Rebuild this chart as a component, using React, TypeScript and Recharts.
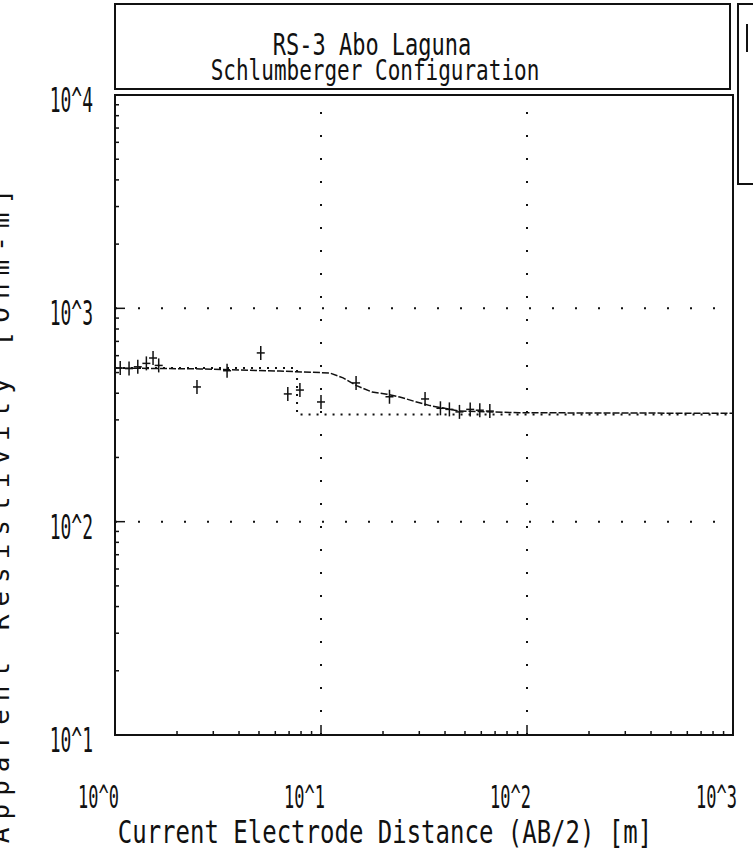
import { ComposedChart, Line, Scatter, XAxis, YAxis, ReferenceLine, ReferenceArea, Customized } from "recharts"

// measured apparent resistivity (AB/2 in m, rho in ohm-m)
const measuredAb2 = [1.06, 1.17, 1.29, 1.42, 1.53, 1.63, 2.5, 3.5, 5.1, 6.9, 7.9, 10, 14.8, 21.5, 32, 38, 42, 47, 53, 59, 66]
const measuredRho = [525, 522, 532, 552, 585, 540, 428, 510, 618, 397, 414, 364, 447, 385, 376, 340, 336, 327, 336, 333, 330]

// computed curve
const curveAb2 = [1, 2.6, 6.3, 11, 12.8, 14.9, 17.7, 20.9, 24.1, 28.5, 33.8, 47, 92, 1000]
const curveRho = [525, 520, 508, 498, 472, 434, 405, 396, 384, 366, 350, 330, 324, 322]

// layered model
const modelAb2 = [1, 7.65, 1000]
const modelRho = [525, 318, 318]

const xDecades = [1, 10, 100, 1000]
const xTickLabels = ["10^0", "10^1", "10^2", "10^3"]
const yDecades = [10, 100, 1000, 10000]
const yTickLabels = ["10^1", "10^2", "10^3", "10^4"]
const minorSteps = [2, 3, 4, 5, 6, 7, 8, 9]

const withMinors = (decades: number[]) => {
  const out: number[] = []
  decades.forEach((d, i) => {
    out.push(d)
    if (i < decades.length - 1) minorSteps.forEach((m) => out.push(d * m))
  })
  return out
}
const xTicks = withMinors(xDecades)
const yTicks = withMinors(yDecades)

const measured = measuredAb2.map((ab2, i) => ({ ab2, rho: measuredRho[i] }))
const curve = curveAb2.map((ab2, i) => ({ ab2, rho: curveRho[i] }))
const model = modelAb2.map((ab2, i) => ({ ab2, rho: modelRho[i] }))

const FONT = "'DejaVu Sans Mono', monospace"
const INK = "#111"

const XTick = (props: any) => {
  const { x, y, payload } = props
  const i = xDecades.indexOf(payload.value)
  const major = i >= 0
  return (
    <g>
      <line x1={x} x2={x} y1={y} y2={y - (major ? 10 : 4)} stroke={INK} strokeWidth={1.5} />
      {major && (
        <text
          transform={`translate(${x + 4},${y + 73}) scale(1,1.9)`}
          textAnchor="end"
          fontFamily={FONT}
          fontSize={17}
          fill={INK}
        >
          {xTickLabels[i]}
        </text>
      )}
    </g>
  )
}

const YTick = (props: any) => {
  const { x, y, payload } = props
  const i = yDecades.indexOf(payload.value)
  const major = i >= 0
  return (
    <g>
      <line x1={x} x2={x + (major ? 10 : 4)} y1={y} y2={y} stroke={INK} strokeWidth={1.5} />
      {major && (
        <text
          transform={`translate(${x - 22},${y + 17}) scale(1,1.9)`}
          textAnchor="end"
          fontFamily={FONT}
          fontSize={18}
          fill={INK}
        >
          {yTickLabels[i]}
        </text>
      )}
    </g>
  )
}

const Cross = (props: any) => {
  const { cx, cy } = props
  return (
    <g stroke={INK} strokeWidth={1.5}>
      <line x1={cx} x2={cx} y1={cy - 7} y2={cy + 7} />
      <line x1={cx - 4} x2={cx + 4} y1={cy} y2={cy} />
    </g>
  )
}

const Frame = () => (
  <g>
    <rect x={115} y={4} width={615} height={85} fill="none" stroke={INK} strokeWidth={2} />
    <text transform="translate(372,55) scale(1,1.35)" textAnchor="middle" fontFamily={FONT} fontSize={22} fill={INK}>
      RS-3 Abo Laguna
    </text>
    <text transform="translate(375,80) scale(1,1.35)" textAnchor="middle" fontFamily={FONT} fontSize={21} fill={INK}>
      Schlumberger Configuration
    </text>
    <rect x={738} y={4} width={30} height={180} fill="none" stroke={INK} strokeWidth={2} />
    <line x1={747} x2={747} y1={24} y2={52} stroke={INK} strokeWidth={2} />
    <text transform="translate(385,843) scale(1,1.35)" textAnchor="middle" fontFamily={FONT} fontSize={24} fill={INK}>
      Current Electrode Distance (AB/2) [m]
    </text>
    <text
      transform="translate(9,512) rotate(-90)"
      textAnchor="middle"
      fontFamily={FONT}
      fontSize={26}
      letterSpacing={8}
      fill={INK}
    >
      Apparent Resistivity [Ohm-m]
    </text>
  </g>
)

export default function App() {
  return (
    <div style={{ position: "absolute", left: 0, top: 0, width: 753, height: 851, background: "#fff" }}>
      <ComposedChart width={753} height={851} margin={{ top: 95, right: 20, bottom: 56, left: 55 }}>
        <XAxis
          dataKey="ab2"
          type="number"
          scale="log"
          domain={[1, 1000]}
          ticks={xTicks}
          interval={0}
          allowDataOverflow
          height={60}
          tickSize={0}
          tickMargin={0}
          tick={<XTick />}
          axisLine={{ stroke: INK, strokeWidth: 2 }}
        />
        <YAxis
          dataKey="rho"
          type="number"
          scale="log"
          domain={[10, 10000]}
          ticks={yTicks}
          interval={0}
          allowDataOverflow
          width={60}
          tickSize={0}
          tickMargin={0}
          tick={<YTick />}
          axisLine={{ stroke: INK, strokeWidth: 2 }}
        />
        <ReferenceLine x={10} stroke={INK} strokeWidth={2} strokeDasharray="2 21" />
        <ReferenceLine x={100} stroke={INK} strokeWidth={2} strokeDasharray="2 21" />
        <ReferenceLine y={100} stroke={INK} strokeWidth={2} strokeDasharray="2 21" />
        <ReferenceLine y={1000} stroke={INK} strokeWidth={2} strokeDasharray="2 21" />
        <ReferenceArea x1={1} x2={1000} y1={10} y2={10000} fill="none" stroke={INK} strokeWidth={2} />
        <Line
          data={model}
          dataKey="rho"
          type="stepAfter"
          stroke={INK}
          strokeWidth={2}
          strokeDasharray="2 6"
          dot={false}
          isAnimationActive={false}
        />
        <Line
          data={curve}
          dataKey="rho"
          type="linear"
          stroke={INK}
          strokeWidth={1.5}
          strokeDasharray="7 2"
          dot={false}
          isAnimationActive={false}
        />
        <Scatter data={measured} dataKey="rho" shape={<Cross />} isAnimationActive={false} />
        <Customized component={<Frame />} />
      </ComposedChart>
    </div>
  )
}
